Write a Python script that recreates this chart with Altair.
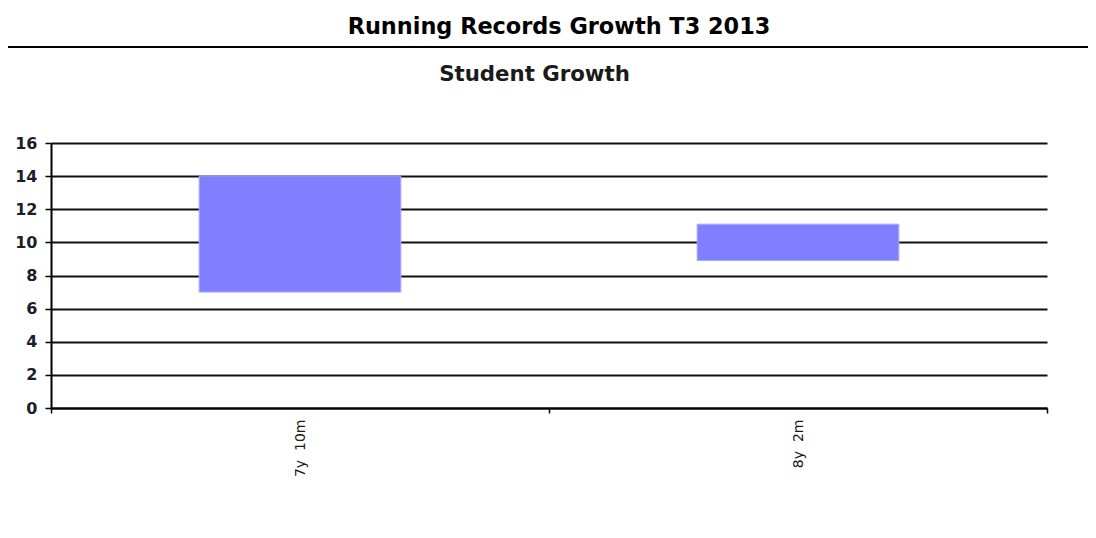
import altair as alt
import pandas as pd

title_text = "Running Records Growth T3 2013"
subtitle_text = "Student Growth"
categories = ["7y\u00a0 10m", "8y\u00a0 2m"]
low_values = [7.0, 8.9]
high_values = [14.0, 11.1]
y_ticks = [0, 2, 4, 6, 8, 10, 12, 14, 16]

df = pd.DataFrame({"cat": categories, "low": low_values, "high": high_values})

W, H = 996, 265

bars = alt.Chart(df).mark_bar(
    color="#8080ff", stroke="#a8a8ff", strokeWidth=1,
    width=alt.RelativeBandSize(0.405)
).encode(
    x=alt.X("cat:N", sort=categories, title=None,
            scale=alt.Scale(paddingInner=0, paddingOuter=0),
            axis=alt.Axis(labelAngle=-90, labelAlign="right", labelBaseline="middle",
                          labelFont="DejaVu Sans", labelFontSize=14, labelColor="#1a1a1a",
                          tickBand="extent", ticks=True, tickSize=5, tickColor="#000",
                          tickWidth=1.5, domainColor="#000", domainWidth=2,
                          labelPadding=6, grid=False)),
    y=alt.Y("low:Q", title=None,
            scale=alt.Scale(domain=[0, 16], nice=False),
            axis=alt.Axis(values=y_ticks, labelFont="DejaVu Sans", labelFontSize=16,
                          labelFontWeight="bold", labelColor="#1c1c2a", tickSize=6,
                          tickColor="#000", tickWidth=1.5, domainColor="#000",
                          domainWidth=2, labelPadding=8, grid=True,
                          gridColor="#111", gridWidth=1.8, gridOpacity=1)),
    y2="high:Q",
)

title_df = pd.DataFrame({"t": [title_text]})
subtitle_df = pd.DataFrame({"t": [subtitle_text]})

main_title = alt.Chart(title_df).mark_text(
    font="DejaVu Sans", fontSize=22.4, fontWeight="bold", color="#000",
    align="center", baseline="alphabetic"
).encode(x=alt.value(508), y=alt.value(-109), text="t:N")

sub_title = alt.Chart(subtitle_df).mark_text(
    font="DejaVu Sans", fontSize=21.3, fontWeight="bold", color="#1a1a1a",
    align="center", baseline="alphabetic"
).encode(x=alt.value(483.5), y=alt.value(-62), text="t:N")

top_rule = alt.Chart(title_df).mark_rule(color="#000", strokeWidth=2).encode(
    x=alt.value(-43), x2=alt.value(W + 41), y=alt.value(-96)
)

chart = alt.layer(bars, top_rule, main_title, sub_title).properties(
    width=W, height=H,
    autosize=alt.AutoSizeParams(type="none"),
    padding={"left": 43, "top": 135, "right": 41, "bottom": 112},
).configure_view(stroke=None)

chart.save("out.html", embed_options={"renderer": "svg", "actions": False})
